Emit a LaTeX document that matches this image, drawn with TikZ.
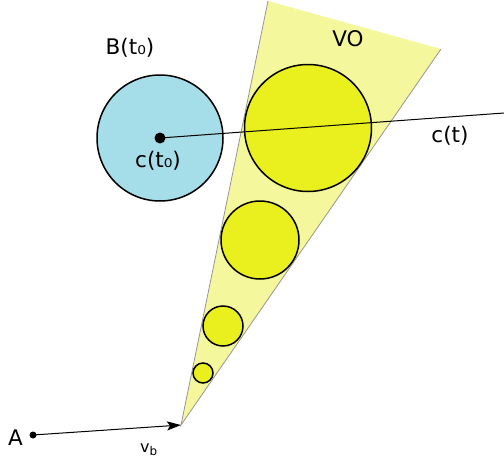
\documentclass[tikz,border=0pt]{standalone}
\usepackage{fontspec}
\setmainfont{DejaVu Sans}
\usetikzlibrary{arrows.meta}
\definecolor{conefill}{RGB}{244,247,155}
\definecolor{obsyellow}{RGB}{234,240,30}
\definecolor{bodyblue}{RGB}{165,221,232}
\definecolor{edgegray}{RGB}{150,150,150}
\tikzset{
  ball/.style={circle, draw=black, line width=1.5pt, inner sep=0pt},
  lbl/.style={font=\fontsize{21.5}{24}\selectfont, inner sep=0pt},
  dotmark/.style={circle, fill=black, inner sep=0pt, minimum size=11pt},
}
\begin{document}
\begin{tikzpicture}[x=1pt,y=-1pt]
\useasboundingbox (0,0) rectangle (504,466);
% cone
\coordinate (apex) at (181,425);
\coordinate (cl) at (268,1);
\coordinate (cr) at (441,49);
\fill[conefill] (apex) -- (cl) -- (cr) -- cycle;
\draw[edgegray, line width=0.8pt] (cl) -- (apex) -- (cr);
% circles
\node[ball, fill=bodyblue, minimum size=126pt] (B) at (160,138) {};
\node[ball, fill=obsyellow, minimum size=127pt] (O1) at (308,128) {};
\node[ball, fill=obsyellow, minimum size=78pt] (O2) at (260,240) {};
\node[ball, fill=obsyellow, minimum size=40pt] (O3) at (223,326) {};
\node[ball, fill=obsyellow, minimum size=20pt] (O4) at (203,373) {};
% trajectory line
\coordinate (cend) at (504,113);
\draw[line width=1pt] (B.center) -- (cend);
\node[dotmark] (c0) at (160,138) {};
% labels
\node[lbl] (Blbl) at (130,48) {B(t₀)};
\node[lbl] (c0lbl) at (158,161) {c(t₀)};
\node[lbl] (VO) at (348,39) {VO};
\node[lbl] (ct) at (450,136) {c(t)};
% A and velocity
\node[circle, fill=black, inner sep=0pt, minimum size=7pt] (Adot) at (33,435) {};
\node[lbl, anchor=east] (A) at (23,438) {A};
\draw[line width=1pt, -{Stealth[length=14pt,width=9pt,inset=3pt]}] (Adot.center) -- (apex);
\node[font=\fontsize{16}{18}\selectfont, inner sep=0pt] (vb) at (149,450) {v\textsubscript{\fontsize{12}{14}\selectfont b}};
\end{tikzpicture}
\end{document}
